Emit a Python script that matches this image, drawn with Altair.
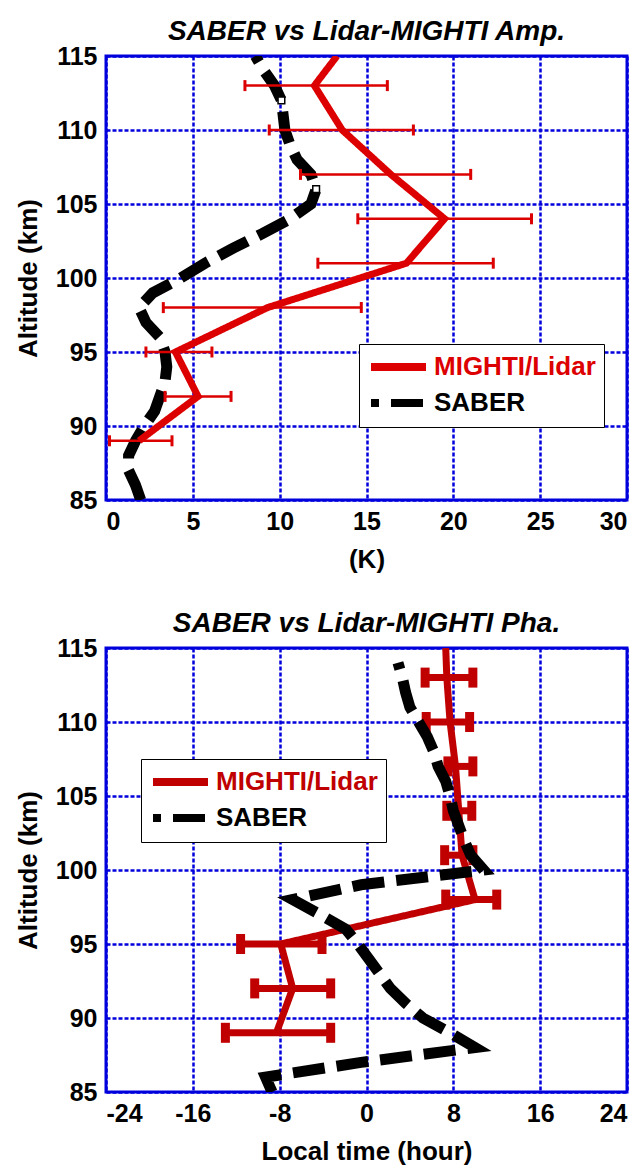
import altair as alt
import pandas as pd

# ---------------- data ----------------
# Top panel: amplitude (K)
mighti_amp_alt = [89, 92, 95, 98, 101, 104, 107, 110, 113, 115]
mighti_amp = [1.9, 5.3, 4.0, 9.3, 17.3, 19.5, 16.4, 13.6, 12.0, 13.3]
mighti_amp_err_alt = [89, 92, 95, 98, 101, 104, 107, 110, 113]
mighti_amp_lo = [0.2, 3.4, 2.3, 3.3, 12.2, 14.5, 11.2, 9.4, 8.0]
mighti_amp_hi = [3.8, 7.2, 6.1, 14.7, 22.3, 24.5, 21.0, 17.7, 16.2]

saber_amp_alt = list(range(85, 116))
saber_amp = [2.0, 1.7, 1.3, 1.3, 1.7, 2.2, 2.8, 3.1, 3.4, 3.5, 3.4, 3.1, 2.3, 1.9,
             2.7, 4.3, 5.7, 7.3, 9.0, 10.6, 11.8, 12.1, 11.8, 11.0, 10.6, 10.3,
             10.2, 10.1, 9.7, 9.1, 8.6]
saber_amp_mark_alt = [112, 106]
saber_amp_mark = [10.1, 12.1]

# Bottom panel: phase (local time, hour)
mighti_pha_alt = [89, 92, 95, 98, 101, 104, 107, 110, 113, 115]
mighti_pha = [-8.3, -6.8, -7.9, 10.0, 8.8, 8.5, 8.2, 7.7, 7.4, 7.3]
mighti_pha_err_alt = [89, 92, 95, 98, 101, 104, 107, 110, 113]
mighti_pha_lo = [-13.0, -10.3, -11.6, 7.3, 7.2, 7.4, 7.5, 5.5, 5.4]
mighti_pha_hi = [-3.3, -3.3, -4.1, 12.0, 9.8, 9.7, 9.8, 9.5, 9.8]

saber_pha_alt = list(range(85, 115))
saber_pha = [-8.7, -9.3, -0.5, 10.0, 7.7, 5.2, 3.6, 2.2, 1.2, 0.2, -0.8, -1.9,
             -4.3, -6.8, -0.5, 10.8, 9.6, 9.0, 8.5, 8.0, 7.7, 7.3, 6.6, 6.2,
             5.6, 4.8, 4.0, 3.6, 3.3, 2.9]

SERIES = ["MIGHTI/Lidar", "SABER"]
RED_TOP = "#dd0000"
RED_BOT = "#c00000"
BLUE = "#0000dd"
FONT = "Liberation Sans"
SABER_DASH = [32, 12]

W, H = 521, 444


def make_panel(title, xtitle, xdomain, xticks, m_alt, m_val, e_alt, e_lo, e_hi,
               s_alt, s_val, red, legend_xy, bar_w, cap_thick, cap_size,
               red_on_top, marks=None):
    m_df = pd.DataFrame({"alt": m_alt, "val": m_val, "series": SERIES[0]})
    s_df = pd.DataFrame({"alt": s_alt, "val": s_val, "series": SERIES[1]})
    e_df = pd.DataFrame({"alt": e_alt, "lo": e_lo, "hi": e_hi})

    xs = alt.Scale(domain=xdomain, nice=False, zero=False)
    ys = alt.Scale(domain=[85, 115], nice=False, zero=False)
    xax = alt.Axis(values=xticks, title=xtitle, labelExpr="toString(datum.value)")
    yax = alt.Axis(values=list(range(85, 116, 5)), title="Altitude (km)")

    legend = alt.Legend(
        title=None, orient="none", legendX=legend_xy[0], legendY=legend_xy[1],
        symbolType="M-1,0H4", symbolSize=484, symbolStrokeWidth=8,
        symbolDashOffset=24,
        labelFont=FONT, labelFontSize=26, labelFontWeight="bold", labelLimit=400,
        labelColor=alt.ExprRef(expr="datum.label == 'SABER' ? 'black' : '%s'" % red),
        labelOffset=37, rowPadding=4, padding=8,
        fillColor="white", strokeColor="black",
    )
    color = alt.Color("series:N", scale=alt.Scale(domain=SERIES, range=[red, "black"]),
                      legend=legend)
    dash = alt.StrokeDash("series:N",
                          scale=alt.Scale(domain=SERIES, range=[[1, 0], SABER_DASH]),
                          legend=legend)

    x = alt.X("val:Q", scale=xs, axis=xax)
    y = alt.Y("alt:Q", scale=ys, axis=yax)

    red_line = alt.Chart(m_df).mark_line(strokeWidth=7, clip=True).encode(
        x=x, y=y, order="alt:Q", color=color, strokeDash=dash)
    saber_line = alt.Chart(s_df).mark_line(strokeWidth=11, clip=True,
                                            strokeCap="butt").encode(
        x=x, y=y, order="alt:Q", color=color, strokeDash=dash)

    bars = alt.Chart(e_df).mark_rule(color=red, strokeWidth=bar_w, clip=True).encode(
        x=alt.X("lo:Q", scale=xs, axis=xax), x2="hi:Q",
        y=alt.Y("alt:Q", scale=ys, axis=yax))
    caps = alt.Chart(e_df).transform_fold(["lo", "hi"], as_=["end", "xv"]).mark_tick(
        color=red, thickness=cap_thick, size=cap_size, orient="vertical",
        clip=True, opacity=1).encode(
        x=alt.X("xv:Q", scale=xs, axis=xax), y=alt.Y("alt:Q", scale=ys, axis=yax))

    red_layers = [red_line, bars, caps]
    if red_on_top:
        layers = [saber_line] + red_layers
    else:
        layers = red_layers + [saber_line]
    if marks is not None:
        mk = pd.DataFrame({"alt": marks[0], "val": marks[1]})
        layers.append(alt.Chart(mk).mark_square(size=45, filled=True, fill="white",
                                               stroke="black", strokeWidth=1.5,
                                               opacity=1).encode(x=x, y=y))

    return alt.layer(*layers).properties(
        width=W, height=H,
        title=alt.TitleParams(text=title, font=FONT, fontSize=28, fontWeight="bold",
                              fontStyle="italic", anchor="middle", frame="group",
                              offset=-2, color="black"),
    )


top = make_panel("SABER vs Lidar-MIGHTI Amp.", "(K)", [0, 30], list(range(0, 31, 5)),
                 mighti_amp_alt, mighti_amp, mighti_amp_err_alt, mighti_amp_lo,
                 mighti_amp_hi, saber_amp_alt, saber_amp, RED_TOP, (253, 288),
                 2.5, 3, 11, True, marks=(saber_amp_mark_alt, saber_amp_mark))

bottom = make_panel("SABER vs Lidar-MIGHTI Pha.", "Local time (hour)", [-24, 24],
                    list(range(-24, 25, 8)), mighti_pha_alt, mighti_pha,
                    mighti_pha_err_alt, mighti_pha_lo, mighti_pha_hi, saber_pha_alt,
                    saber_pha, RED_BOT, (35, 111), 7, 9, 20, False)

chart = alt.vconcat(top, bottom, spacing=34).resolve_scale(
    color="independent", strokeDash="independent", x="independent", y="independent"
).resolve_legend(color="independent", strokeDash="independent").configure_view(
    stroke=BLUE, strokeWidth=3
).configure_axis(
    grid=True, gridColor=BLUE, gridDash=[4, 2], gridWidth=2.5, gridOpacity=1,
    domain=False, ticks=False, labelPadding=9,
    labelFont=FONT, labelFontSize=25, labelFontWeight="bold", labelColor="black",
    titleFont=FONT, titleFontSize=26, titleFontWeight="bold", titleColor="black",
).configure_axisY(titlePadding=14).configure_axisX(titlePadding=12).properties(
    padding={"left": 13, "top": 16, "right": 10, "bottom": 5},
    background="white",
)

chart.save("out.html", embed_options={"renderer": "svg", "actions": False})
